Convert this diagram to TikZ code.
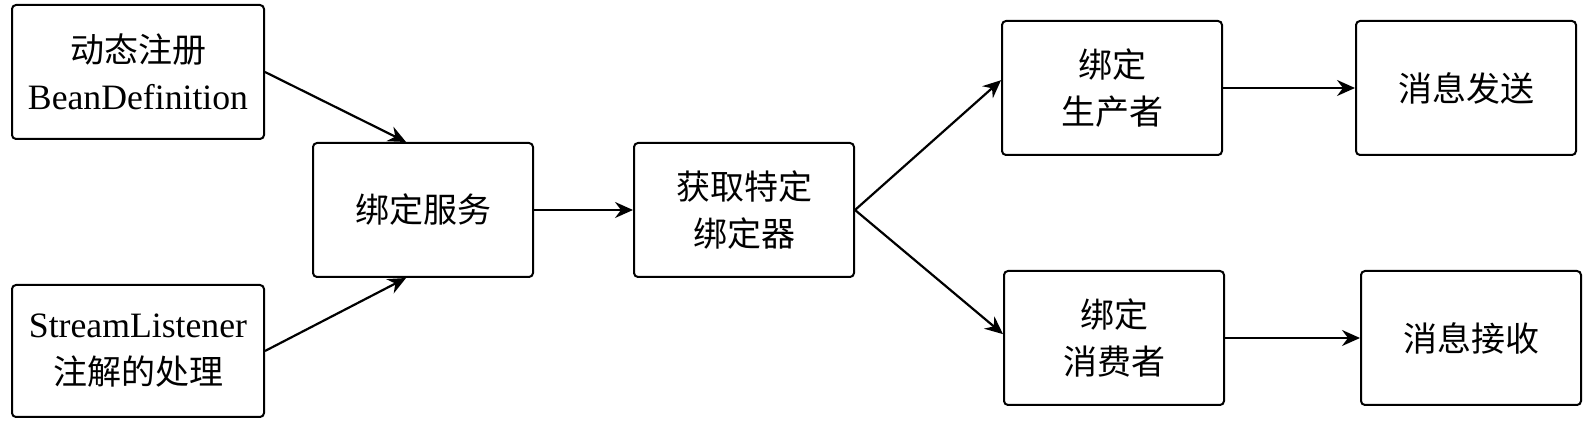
\documentclass[tikz,border=0pt]{standalone}
\usepackage{fontspec}
\setmainfont{Liberation Serif}[Scale=1.05]
\newfontfamily\cjk{Noto Sans CJK SC}
\usetikzlibrary{arrows.meta}
\begin{document}
\begin{tikzpicture}[x=0.5pt, y=-0.5pt,
  box/.style={draw, line width=1pt, rounded corners=2pt, align=center,
    inner sep=0pt, minimum width=110pt, minimum height=67pt,
    font=\fontsize{17}{23.5}\selectfont},
  >={Stealth[length=9pt, width=8pt, inset=3pt]}]
  \useasboundingbox (0,0) rectangle (1594,426);
  \node [box, minimum width=126pt] (reg) at (138,72) {{\cjk 动态注册}\\BeanDefinition};
  \node [box, minimum width=126pt, minimum height=66pt] (lis) at (138,351) {StreamListener\\{\cjk 注解的处理}};
  \node [box] (bs) at (423,210) {\cjk 绑定服务};
  \node [box] (bdr) at (744,210) {\cjk 获取特定\\\cjk 绑定器};
  \node [box] (prod) at (1112,88) {\cjk 绑定\\\cjk 生产者};
  \node [box] (send) at (1466,88) {\cjk 消息发送};
  \node [box] (cons) at (1114,338) {\cjk 绑定\\\cjk 消费者};
  \node [box] (recv) at (1471,338) {\cjk 消息接收};
  \draw [line width=1.1pt, ->] (reg.east) -- (bs.104);
  \draw [line width=1.1pt, ->] (lis.east) -- (bs.256);
  \draw [line width=1.1pt, ->] (bs) -- (bdr);
  \draw [line width=1.1pt, ->] (bdr.east) -- (prod.176);
  \draw [line width=1.1pt, ->] (bdr.east) -- (cons.178);
  \draw [line width=1.1pt, ->] (prod) -- (send);
  \draw [line width=1.1pt, ->] (cons) -- (recv);
\end{tikzpicture}
\end{document}
